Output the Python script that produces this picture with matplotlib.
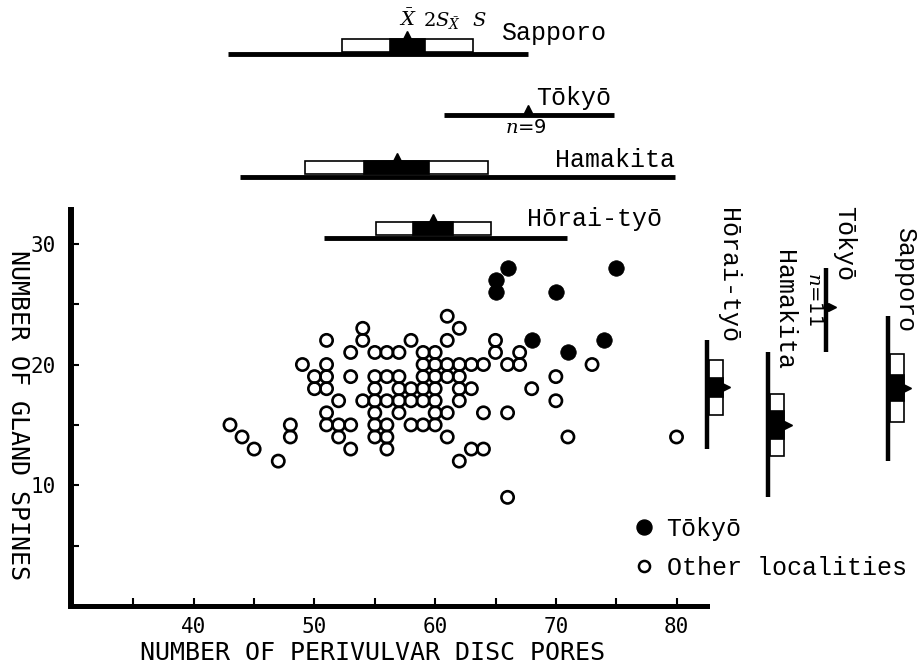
import numpy as np
import matplotlib
matplotlib.use("Agg")
import matplotlib.pyplot as plt
from matplotlib.patches import Rectangle
from matplotlib.lines import Line2D
from matplotlib.ticker import FixedLocator
from matplotlib.font_manager import FontProperties

plt.rcParams["font.family"] = ["DejaVu Sans Mono", "DejaVu Sans"]
plt.rcParams["mathtext.fontset"] = "dejavuserif"

# --- scatter data: perivulvar disc pores (x) vs gland spines (y) ---
other_x = [61,
           54, 62,
           51, 54, 58, 61, 65,
           53, 55, 56, 57, 59, 60, 65, 67,
           49, 51, 59, 60, 61, 62, 63, 64, 66, 67, 73,
           50, 51, 53, 55, 56, 57, 59, 60, 61, 62, 70,
           50, 51, 55, 57, 58, 59, 60, 62, 63, 68,
           52, 54, 55, 56, 57, 58, 59, 60, 62, 70,
           51, 55, 57, 60, 61, 64, 66,
           43, 48, 51, 52, 53, 55, 56, 58, 59, 60,
           44, 48, 52, 55, 56, 61, 71, 80,
           45, 53, 56, 63, 64,
           47, 62,
           66]
other_y = [24,
           23, 23,
           22, 22, 22, 22, 22,
           21, 21, 21, 21, 21, 21, 21, 21,
           20, 20, 20, 20, 20, 20, 20, 20, 20, 20, 20,
           19, 19, 19, 19, 19, 19, 19, 19, 19, 19, 19,
           18, 18, 18, 18, 18, 18, 18, 18, 18, 18,
           17, 17, 17, 17, 17, 17, 17, 17, 17, 17,
           16, 16, 16, 16, 16, 16, 16,
           15, 15, 15, 15, 15, 15, 15, 15, 15, 15,
           14, 14, 14, 14, 14, 14, 14, 14,
           13, 13, 13, 13, 13,
           12, 12,
           9]
tokyo_x = [66, 65, 65, 75, 70, 68, 74, 71]
tokyo_y = [28, 27, 26, 28, 26, 22, 22, 21]

x_ticks = [40, 50, 60, 70, 80]
y_ticks = [10, 20, 30]

# --- locality summaries for disc pores (top) ---
top_names = ["Sapporo", "Tōkyō", "Hamakita", "Hōrai-tyō"]
top_min = [42.8, 60.7, 43.8, 50.8]
top_max = [67.7, 74.8, 79.9, 70.9]
top_mean = [57.7, 67.7, 56.8, 59.85]
top_sd = [5.4, np.nan, 7.55, 4.75]
top_se2 = [1.45, np.nan, 2.7, 1.65]

# --- locality summaries for gland spines (right) ---
side_names = ["Hōrai-tyō", "Hamakita", "Tōkyō", "Sapporo"]
side_min = [13.0, 9.0, 21.0, 12.0]
side_max = [22.0, 21.0, 28.0, 24.0]
side_mean = [18.1, 15.0, 24.8, 18.05]
side_sd = [2.25, 2.6, np.nan, 2.8]
side_se2 = [0.8, 1.15, np.nan, 1.1]

# layout of the summary diagrams (data units of the main axes)
top_y = [45.7, 40.7, 35.55, 30.5]
top_label_x = [65.5, 68.4, 69.9, 67.65]
top_label_dy = [1.2, 0.8, 0.85, 1.0]
side_x = [82.5, 87.6, 92.4, 97.5]
side_label_dx = [1.75, 1.3, 1.45, 1.4]
side_label_top = [33.0, 29.5, 33.1, 31.4]

label_font = FontProperties(family="Liberation Mono", size=18)

fig = plt.figure(figsize=(9.22, 6.67), dpi=100)
ax = fig.add_axes([70.7 / 922, 61 / 667, 636 / 922, 396 / 667])
ax.set_xlim(29.8, 82.5)
ax.set_ylim(0, 32.8)

ax.scatter(other_x, other_y, s=78, facecolors="none", edgecolors="black",
           linewidths=1.9, zorder=3)
ax.scatter(tokyo_x, tokyo_y, s=125, color="black", linewidths=0.5, zorder=4)

box_h = 1.1
# top diagrams: horizontal
for name, lo, hi, m, sd, se, y, lx, ldy in zip(top_names, top_min, top_max, top_mean,
                                              top_sd, top_se2, top_y, top_label_x, top_label_dy):
    ax.plot([lo, hi], [y, y], color="black", lw=3.5, solid_capstyle="butt", clip_on=False)
    base = y + 0.2
    if not np.isnan(sd):
        ax.add_patch(Rectangle((m - sd, base), 2 * sd, box_h, fc="white", ec="black",
                               lw=1.2, clip_on=False))
        ax.add_patch(Rectangle((m - se, base), 2 * se, box_h, fc="black", ec="black",
                               lw=1.2, clip_on=False))
        tri_y = base + box_h + 0.3
    else:
        tri_y = base + 0.3
    ax.plot([m], [tri_y], marker="^", ms=6, color="black", clip_on=False)
    ax.text(lx, y + ldy, name, fontproperties=label_font, va="baseline", ha="left")

# labels of the key over Sapporo
ax.text(top_mean[0], 48.0, r"$\bar{X}$", fontsize=14, ha="center", va="baseline")
ax.text(59.0, 48.0, r"$2S_{\bar{X}}$", fontsize=14, ha="left", va="baseline")
ax.text(63.05, 48.0, r"$S$", fontsize=14, ha="left", va="baseline")
ax.text(65.8, 39.2, r"$n$=9", fontsize=14, ha="left", va="baseline",
        family="DejaVu Sans")

# right diagrams: vertical
box_w = 1.15
for name, lo, hi, m, sd, se, x, ldx, ltop in zip(side_names, side_min, side_max, side_mean,
                                                side_sd, side_se2, side_x, side_label_dx,
                                                side_label_top):
    ax.plot([x, x], [lo, hi], color="black", lw=3.2, solid_capstyle="butt", clip_on=False)
    base = x + 0.18
    if not np.isnan(sd):
        ax.add_patch(Rectangle((base, m - sd), box_w, 2 * sd, fc="white", ec="black",
                               lw=1.2, clip_on=False))
        ax.add_patch(Rectangle((base, m - se), box_w, 2 * se, fc="black", ec="black",
                               lw=1.2, clip_on=False))
        tri_x = base + box_w + 0.3
    else:
        tri_x = base + 0.3
    ax.plot([tri_x], [m], marker=">", ms=6, color="black", clip_on=False)
    ax.text(x + ldx, ltop, name, fontproperties=label_font, rotation=-90,
            ha="center", va="top")
ax.text(91.47, 25.4, r"$n$=11", fontsize=14, rotation=-90, ha="center", va="center",
        family="DejaVu Sans")

# axes styling
for side in ["top", "right"]:
    ax.spines[side].set_visible(False)
ax.spines["left"].set_linewidth(4.3)
ax.spines["bottom"].set_linewidth(3.6)
ax.xaxis.set_major_locator(FixedLocator(x_ticks))
ax.xaxis.set_minor_locator(FixedLocator([t - 5 for t in x_ticks]))
ax.yaxis.set_major_locator(FixedLocator(y_ticks))
ax.yaxis.set_minor_locator(FixedLocator([t - 5 for t in y_ticks]))
ax.tick_params(which="both", direction="in", length=6, width=1.5)
ax.tick_params(axis="x", labelsize=15, pad=8)
ax.tick_params(axis="y", labelsize=15, pad=11)

fig.text(372 / 922, 1 - 653.5 / 667, "NUMBER OF PERIVULVAR DISC PORES", fontsize=18,
         ha="center", va="center")
fig.text(17.5 / 922, 1 - 415 / 667, "NUMBER OF GLAND SPINES", fontsize=18,
         rotation=-90, ha="center", va="center")

handles = [Line2D([], [], ls="none", marker="o", ms=10.8, mfc="black", mec="black"),
           Line2D([], [], ls="none", marker="o", ms=8, mfc="white", mec="black", mew=1.8)]
fig.legend(handles, ["Tōkyō", "Other localities"], loc="upper left",
           bbox_to_anchor=(634 / 922, 1 - 517 / 667), frameon=False, prop=label_font,
           handlelength=0.8, handletextpad=0.5, labelspacing=0.6, borderpad=0,
           borderaxespad=0)

fig.savefig("out.png", dpi=100)
